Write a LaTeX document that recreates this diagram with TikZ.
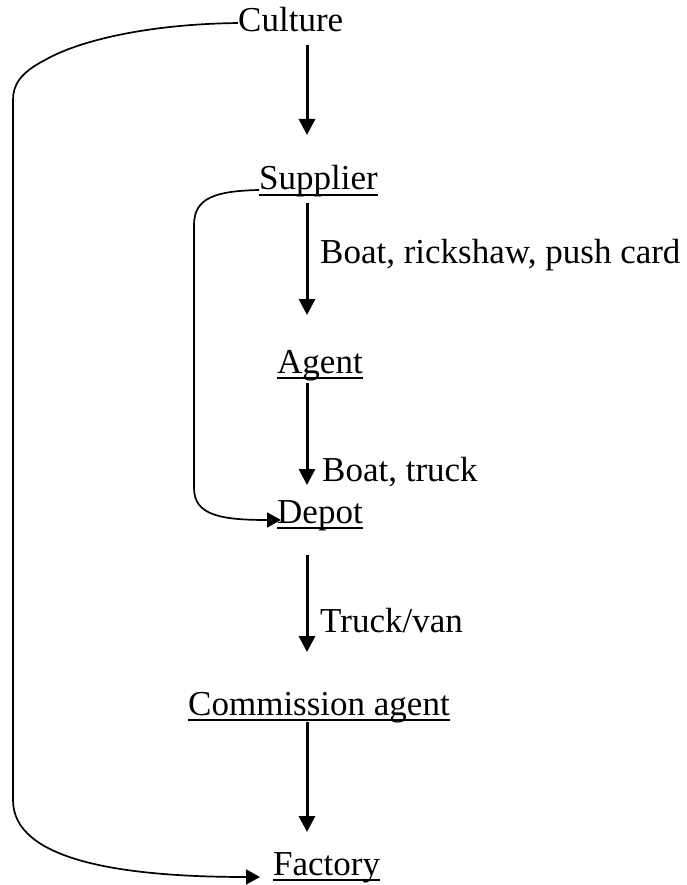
\documentclass[tikz,border=0pt]{standalone}
\usepackage{fontspec}
\setmainfont{Liberation Serif}
\usetikzlibrary{arrows.meta}
\begin{document}
\begin{tikzpicture}[x=1pt,y=-1pt,font=\fontsize{35}{42}\selectfont,
  stage/.style={anchor=base west,inner sep=0pt,text=ink},
  mode/.style={anchor=base west,inner sep=0pt,text=ink},
  flow/.style={ink,line width=3pt,-{Triangle[length=16pt,width=16pt]}},
  bypass/.style={ink,line width=1.7pt,-{Triangle[length=14pt,width=15pt]}},
  uline/.style={ink,line width=1.6pt}]
\definecolor{ink}{HTML}{000000}
\useasboundingbox (0,0) rectangle (686,885);
\coordinate (spine) at (307,0);
\node[stage] (culture) at (238,32) {Culture};
\node[stage] (supplier) at (259,190) {Supplier};
\node[stage] (agent) at (277,373) {Agent};
\node[stage] (depot) at (277,523) {Depot};
\node[stage] (commission) at (188,715) {Commission agent};
\node[stage] (factory) at (273,875) {Factory};
\foreach \n in {supplier,agent,depot,commission,factory}
  \draw[uline] ([yshift=-5pt]\n.base west) -- ([yshift=-5pt]\n.base east);
\node[mode] (byboat) at (320,263) {Boat, rickshaw, push card};
\node[mode] (bytruck) at (322,481) {Boat, truck};
\node[mode] (byvan) at (320,632) {Truck/van};
\draw[flow,shorten <=13pt,shorten >=55pt] (culture.base -| spine) -- (supplier.base -| spine);
\draw[flow,shorten <=13pt,shorten >=58pt] (supplier.base -| spine) -- (agent.base -| spine);
\draw[flow,shorten <=10pt,shorten >=38pt] (agent.base -| spine) -- (depot.base -| spine);
\draw[flow,shorten <=32pt,shorten >=63pt] (depot.base -| spine) -- (commission.base -| spine);
\draw[flow,shorten <=7pt,shorten >=43pt] (commission.base -| spine) -- (factory.base -| spine);
\draw[bypass] ([yshift=-3pt]culture.west) .. controls (150,24) and (80,40) .. (45,60)
  .. controls (20,73) and (13,85) .. (13,100) -- (13,800)
  .. controls (13,860) and (120,877) .. ([xshift=-13pt,yshift=-2pt]factory.base west);
\draw[bypass] (supplier.base west) .. controls (215,191) and (194,198) .. (194,225) -- (194,488)
  .. controls (194,515) and (220,520) .. ([xshift=4pt,yshift=3pt]depot.base west);
\end{tikzpicture}
\end{document}
